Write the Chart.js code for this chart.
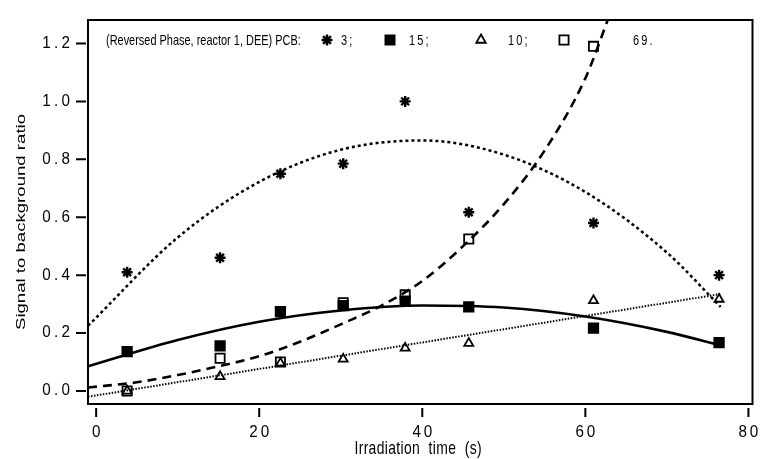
<!DOCTYPE html>
<html><head><meta charset="utf-8">
<script src="https://cdn.jsdelivr.net/npm/chart.js@4/dist/chart.umd.min.js"></script>
<style>html,body{margin:0;padding:0;background:#fff}#wrap{width:761px;height:459px}</style>
</head><body><div id="wrap"><canvas id="c" width="761" height="459"></canvas></div>
<script>
// ---- data ----
const times = [3.8, 15.2, 22.6, 30.3, 37.9, 45.7, 61.0, 76.4];
const pcb3  = [0.41, 0.46, 0.75, 0.785, 1.00, 0.617, 0.58, 0.40];
const pcb15 = [0.136, 0.156, 0.274, 0.295, 0.31, 0.29, 0.217, 0.167];
const pcb10 = [0.00, 0.05, 0.096, 0.11, 0.148, 0.165, 0.312, 0.317];
const pcb69 = [0.00, 0.113, 0.10, 0.305, 0.332, 0.525, 1.19, null];

const fitTimes3 = [-1, 10, 20, 30, 40, 50, 60, 70, 76.6];
const fit3      = [0.225, 0.53, 0.722, 0.833, 0.865, 0.816, 0.687, 0.478, 0.29];
const fitTimes15 = [-1, 10, 20, 30, 40, 50, 60, 70, 76.6];
const fit15      = [0.085, 0.176, 0.239, 0.278, 0.295, 0.288, 0.257, 0.204, 0.157];
const fitTimes10 = [-1, 76.6];
const fit10      = [-0.02, 0.335];
const fitTimes69 = [-1, 5, 10, 15, 20, 25, 30, 35, 40, 45, 50, 55, 60, 63];
const fit69      = [0.012, 0.03, 0.055, 0.085, 0.12, 0.17, 0.23, 0.295, 0.38, 0.50, 0.645, 0.83, 1.08, 1.30];

const xTickValues = [0, 20, 40, 60, 80];
const xTickLabels = ['0', '20', '40', '60', '80'];
const yTickValues = [0, 0.2, 0.4, 0.6, 0.8, 1.0, 1.2];
const yTickLabels = ['0.0', '0.2', '0.4', '0.6', '0.8', '1.0', '1.2'];

const xTitle = 'Irradiation  time  (s)';
const yTitle = 'Signal to background ratio';
const legendLead = '(Reversed Phase, reactor 1, DEE) PCB:';
const legendNames = ['3;', '15;', '10;', '69.'];

// ---- helpers ----
const pts = (xs, ys) => xs.map((x, i) => ({x: x, y: ys[i]})).filter(p => p.y !== null);
const FONT = '"Liberation Sans", Arial, Helvetica, sans-serif';

function drawText(ctx, s, x, y, o) {
  ctx.save();
  ctx.translate(x, y);
  if (o.rotate) ctx.rotate(o.rotate);
  ctx.scale(o.sx || 1, o.sy || 1);
  ctx.font = (o.weight || 'normal') + ' ' + o.size + 'px ' + FONT;
  ctx.letterSpacing = (o.spacing || 0) + 'px';
  ctx.textAlign = o.align || 'left';
  ctx.textBaseline = o.baseline || 'alphabetic';
  ctx.fillStyle = '#000';
  let dx = 0;
  if (o.spacing) {
    if (o.align === 'right') dx = o.spacing;
    else if (o.align === 'center') dx = o.spacing / 2;
  }
  ctx.fillText(s, dx, 0);
  ctx.restore();
}

function marker(ctx, style, filled, r, x, y) {
  ctx.save();
  ctx.strokeStyle = '#000';
  ctx.fillStyle = filled ? '#000' : '#fff';
  ctx.lineWidth = style === 'star' ? 2.4 : 1.8;
  Chart.helpers.drawPoint(ctx, {pointStyle: style, radius: r, borderWidth: ctx.lineWidth, rotation: 0}, x, y);
  ctx.restore();
}

const frame = {
  id: 'frame',
  afterDraw(chart) {
    const ctx = chart.ctx, a = chart.chartArea, xs = chart.scales.x, ys = chart.scales.y;
    ctx.save();
    ctx.strokeStyle = '#000';
    ctx.lineWidth = 2;
    ctx.strokeRect(a.left, a.top, a.right - a.left, a.bottom - a.top);
    ctx.beginPath();
    yTickValues.forEach(v => { const y = ys.getPixelForValue(v); ctx.moveTo(a.left - 2, y); ctx.lineTo(a.left - 12, y); });
    xTickValues.forEach(v => { const x = xs.getPixelForValue(v); ctx.moveTo(x, a.bottom + 4); ctx.lineTo(x, a.bottom + 13); });
    ctx.stroke();
    ctx.restore();

    yTickValues.forEach((v, i) => drawText(ctx, yTickLabels[i], 70, ys.getPixelForValue(v),
      {size: 16, sx: 0.95, spacing: 3.5, align: 'right', baseline: 'middle'}));
    xTickValues.forEach((v, i) => drawText(ctx, xTickLabels[i], xs.getPixelForValue(v), 437,
      {size: 16, sx: 0.95, spacing: 3, align: 'center'}));

    drawText(ctx, xTitle, 418, 454, {size: 19, sx: 0.73, spacing: 0.5, align: 'center'});
    drawText(ctx, yTitle, 25, 222, {size: 18.6, rotate: -Math.PI / 2, sy: 0.73, align: 'center'});

    // legend inside the plot
    drawText(ctx, legendLead, 106, 45, {size: 15, sx: 0.73});
    marker(ctx, 'star', true, 5.5, 327, 40);
    drawText(ctx, legendNames[0], 341, 45, {size: 15, sx: 0.73, spacing: 3});
    marker(ctx, 'rect', true, 6.5, 390, 40);
    drawText(ctx, legendNames[1], 409, 45, {size: 15, sx: 0.73, spacing: 3});
    marker(ctx, 'triangle', false, 5.5, 481, 40);
    drawText(ctx, legendNames[2], 508, 45, {size: 15, sx: 0.73, spacing: 3});
    marker(ctx, 'rect', false, 6.5, 564, 40);
    drawText(ctx, legendNames[3], 633, 45, {size: 15, sx: 0.73, spacing: 3});
  }
};

const lineDs = (xs, ys, dash, width) => ({
  type: 'line', data: pts(xs, ys), borderColor: '#000', borderWidth: width, borderDash: dash,
  pointRadius: 0, fill: false, cubicInterpolationMode: 'monotone', showLine: true
});
const scatterDs = (ys, style, filled, r) => ({
  type: 'scatter', data: pts(times, ys), pointStyle: style, pointRadius: r, pointHoverRadius: r,
  backgroundColor: filled ? '#000' : '#fff', borderColor: '#000', pointBorderWidth: style === 'star' ? 2.4 : 1.8,
  showLine: false
});

new Chart(document.getElementById('c'), {
  data: {
    datasets: [
      lineDs(fitTimes3, fit3, [3, 3], 2.5),
      lineDs(fitTimes15, fit15, [], 2.6),
      lineDs(fitTimes10, fit10, [1.5, 1.5], 2),
      lineDs(fitTimes69, fit69, [9, 6], 2.6),
      scatterDs(pcb3, 'star', true, 5.5),
      scatterDs(pcb15, 'rect', true, 6.7),
      scatterDs(pcb10, 'triangle', false, 5.2),
      scatterDs(pcb69, 'rect', false, 6.5)
    ]
  },
  options: {
    responsive: false, animation: false, events: [],
    layout: {padding: {left: 88, right: 6, top: 20, bottom: 55}},
    plugins: {legend: {display: false}, tooltip: {enabled: false}},
    scales: {
      x: {type: 'linear', min: -1, max: 80.5, display: false},
      y: {type: 'linear', min: -0.045, max: 1.281, display: false}
    }
  },
  plugins: [frame]
});
</script>
</body></html>
